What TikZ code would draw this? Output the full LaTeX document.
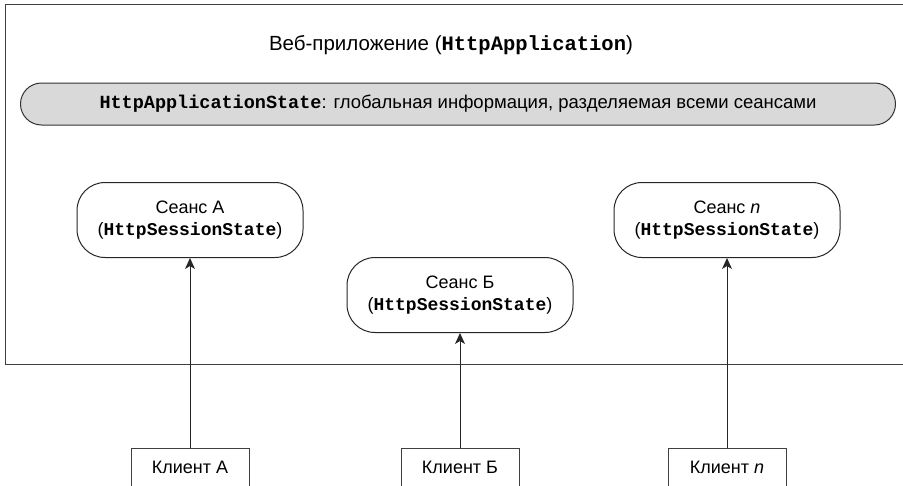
\documentclass[tikz,border=0pt]{standalone}
\usepackage{fontspec}
\setmainfont{Liberation Sans}
\setmonofont{Liberation Mono}
\usetikzlibrary{arrows.meta}
\newcommand{\code}[1]{\texttt{\bfseries #1}}
\begin{document}
\begin{tikzpicture}[x=1pt, y=-1pt, font=\fontsize{18}{22}\selectfont]
      \tikzstyle{frame}=[draw=black!75, line width=1.4pt]
      \tikzstyle{bar}=[draw=black!80, fill=black!15, line width=1pt, rounded corners=21pt,
                       minimum width=875pt, minimum height=42pt]
      \tikzstyle{sess}=[draw=black!85, line width=1pt, rounded corners=28pt, align=center,
                        minimum width=226pt, minimum height=75pt]
      \tikzstyle{client}=[draw=black!75, line width=1pt, anchor=north, minimum width=118pt,
                          text height=12pt, text depth=40pt, inner ysep=13pt]
      \tikzstyle{arrow}=[draw=black!85, line width=1pt, -{Stealth[length=11pt, width=10pt, inset=3pt]}]
      \useasboundingbox (0,0) rectangle (903,485);
      \clip (0,0) rectangle (903,485);
      \node[frame, anchor=north west, minimum width=940pt, minimum height=360pt] (web) at (5,4) {};
      \node[font=\fontsize{20.5}{24}\selectfont] (title) at (451,45) {Веб-приложение (\code{HttpApplication})};
      \node[bar, font=\fontsize{18.5}{22}\selectfont] (state) at (458,104) {\code{HttpApplicationState}: глобальная информация, разделяемая всеми сеансами};
      \node[sess] (sA) at (190,220) {Сеанс А\\(\code{HttpSessionState})};
      \node[sess] (sB) at (460,295) {Сеанс Б\\(\code{HttpSessionState})};
      \node[sess] (sN) at (727,220) {Сеанс \textit{n}\\(\code{HttpSessionState})};
      \node[client] (cA) at (190,448) {Клиент А};
      \node[client] (cB) at (460,448) {Клиент Б};
      \node[client] (cN) at (727,448) {Клиент \textit{n}};

      \foreach \src/\dst in {cA/sA, cB/sB, cN/sN} {%
        \draw[arrow] (\src) to (\dst);
      }
    \end{tikzpicture}
\end{document}
